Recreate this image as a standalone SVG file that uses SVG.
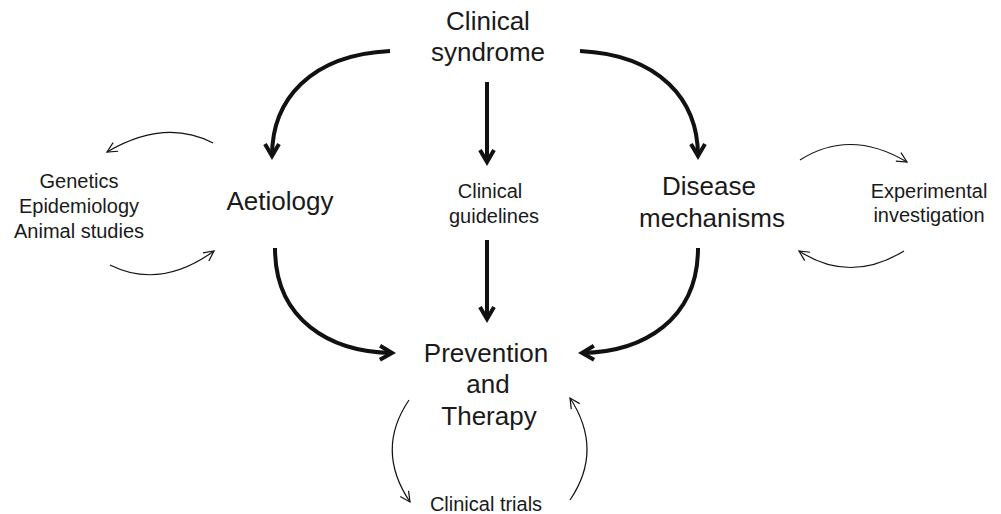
<svg xmlns="http://www.w3.org/2000/svg" width="1001" height="514" viewBox="0 0 1001 514">
<style>
text{font-family:"Liberation Sans",Arial,sans-serif;fill:#1a1a1a;text-anchor:middle}
.big{font-size:26px}
.small{font-size:20px}
.thick{fill:none;stroke:#111;stroke-width:4}
.thin{fill:none;stroke:#111;stroke-width:1.2}
</style>
<defs>
<marker id="ah" markerUnits="userSpaceOnUse" viewBox="-16 -10 20 20" refX="0" refY="0" markerWidth="20" markerHeight="20" orient="auto" overflow="visible">
<path d="M-12,-7 L0,0 L-12,7" fill="none" stroke="#111" stroke-width="4" stroke-linejoin="miter"/>
</marker>
<marker id="ahs" markerUnits="userSpaceOnUse" viewBox="-12 -8 14 16" refX="0" refY="0" markerWidth="14" markerHeight="16" orient="auto" overflow="visible">
<path d="M-10,-5 L0,0 L-10,5" fill="none" stroke="#111" stroke-width="1.2"/>
</marker>
</defs>
<g id="connectors">
<path class="thick" d="M390,51 C310,55 272,100 272,156" marker-end="url(#ah)"/>
<path class="thick" d="M580,51 C660,55 698,100 698,156" marker-end="url(#ah)"/>
<path class="thick" d="M487,82 L487,162" marker-end="url(#ah)"/>
<path class="thick" d="M487,240 L487,319" marker-end="url(#ah)"/>
<path class="thick" d="M275,248 C275,320 330,352 392,353" marker-end="url(#ah)"/>
<path class="thick" d="M698,248 C698,320 643,352 582,353" marker-end="url(#ah)"/>
<path class="thin" d="M213,143 Q165,118 107,152" marker-end="url(#ahs)"/>
<path class="thin" d="M110,265 Q160,290 214,251" marker-end="url(#ahs)"/>
<path class="thin" d="M800,160 Q850,128 907,162" marker-end="url(#ahs)"/>
<path class="thin" d="M904,251 Q850,284 799,251" marker-end="url(#ahs)"/>
<path class="thin" d="M409,400 Q375,450 410,502" marker-end="url(#ahs)"/>
<path class="thin" d="M570,500 Q604,450 570,398" marker-end="url(#ahs)"/>
</g>
<g id="clinical-syndrome"><text class="big" x="488" y="30">Clinical</text><text class="big" x="488" y="61">syndrome</text></g>
<g id="aetiology"><text class="big" x="280" y="210">Aetiology</text></g>
<g id="clinical-guidelines"><text class="small" x="490" y="198">Clinical</text><text class="small" x="494" y="223">guidelines</text></g>
<g id="disease-mechanisms"><text class="big" x="709" y="195">Disease</text><text class="big" x="712" y="227">mechanisms</text></g>
<g id="genetics"><text class="small" x="79" y="188">Genetics</text><text class="small" x="79" y="213">Epidemiology</text><text class="small" x="79" y="238">Animal studies</text></g>
<g id="experimental"><text class="small" x="929" y="198">Experimental</text><text class="small" x="929" y="222">investigation</text></g>
<g id="prevention"><text class="big" x="486" y="362">Prevention</text><text class="big" x="488" y="393">and</text><text class="big" x="489" y="425">Therapy</text></g>
<g id="clinical-trials"><text class="small" x="486" y="511">Clinical trials</text></g>
</svg>
